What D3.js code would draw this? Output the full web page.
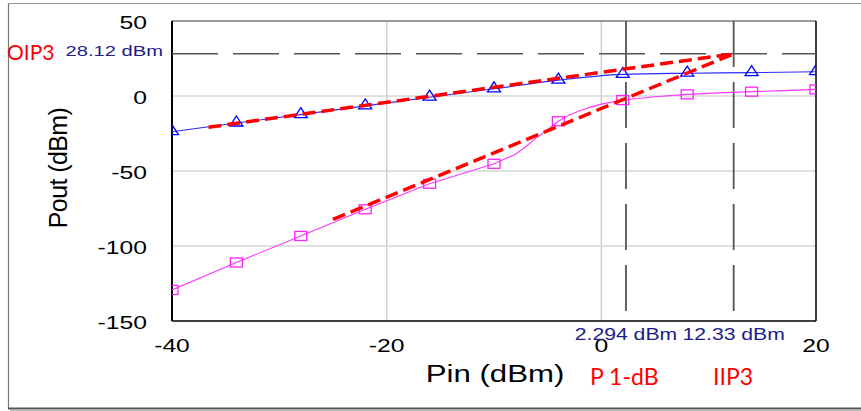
<!DOCTYPE html>
<html>
<head>
<script src="https://cdn.jsdelivr.net/npm/d3@7"></script>
<style>
  body { margin: 0; background: #fff; }
  svg { display: block; }
</style>
</head>
<body>
<script>
// values
var pinMarkers = [-40, -34, -28, -22, -16, -10, -4, 2, 8, 14, 20];
var fundOut = [-23.8, -18, -12.4, -6.6, -0.8, 4.8, 10.6, 14.4, 15.2, 15.6, 16.2];

var im3Pin = [-40, -34, -28, -22, -16, -10, -8, -7, -6, -5, -4, -3, -2, -1, 0, 2, 5, 8, 11, 14, 17, 20];
var im3Out = [-129.3, -111, -93.3, -75.5, -58.5, -45.2, -38.8, -33.5, -27.6, -22.3, -16.8, -12.6, -9.8, -7.4, -5.4, -2.7, -0.5, 1.1, 2.1, 2.9, 3.6, 4.4];

var fundExtPin = [-36.6, 12.33], fundExtOut = [-20.8, 28.12];
var im3ExtPin = [-25, 12.33], im3ExtOut = [-82.2, 28.12];

var oip3 = 28.12, p1dB = 2.294, iip3 = 12.33;

var xTicks = [-40, -20, 0, 20];
var yTicks = [50, 0, -50, -100, -150];
var xGrid = [-20, 0];
var yGrid = [0, -50, -100];

var W = 861, H = 411;
var pLeft = 172, pRight = 816, pTop = 21, pBottom = 321;
var sx = 1.3; // the original text is stretched sideways

var x = d3.scaleLinear().domain([-40, 20]).range([pLeft, pRight]);
var y = d3.scaleLinear().domain([-150, 50]).range([pBottom, pTop]);

var svg = d3.select("body").append("svg").attr("width", W).attr("height", H);

// outer frame
svg.append("line").attr("x1", 8.5).attr("x2", 8.5).attr("y1", 3).attr("y2", 408)
  .attr("stroke", "#777").attr("stroke-width", 1.2);
svg.append("line").attr("x1", 8).attr("x2", W).attr("y1", 3.5).attr("y2", 3.5)
  .attr("stroke", "#999").attr("stroke-width", 1);
svg.append("line").attr("x1", 8).attr("x2", W).attr("y1", 408.5).attr("y2", 408.5)
  .attr("stroke", "#555").attr("stroke-width", 2);
svg.append("line").attr("x1", 10).attr("x2", W).attr("y1", 410.5).attr("y2", 410.5)
  .attr("stroke", "#bbb").attr("stroke-width", 1);

svg.append("clipPath").attr("id", "plot")
  .append("rect").attr("x", pLeft).attr("y", pTop).attr("width", pRight - pLeft).attr("height", pBottom - pTop);

// grid
svg.selectAll(".gx").data(xGrid).enter().append("line")
  .attr("x1", function(d) { return x(d); }).attr("x2", function(d) { return x(d); })
  .attr("y1", pTop).attr("y2", pBottom)
  .attr("stroke", "#cfcfcf").attr("stroke-width", 1.5);
svg.selectAll(".gy").data(yGrid).enter().append("line")
  .attr("x1", pLeft).attr("x2", pRight)
  .attr("y1", function(d) { return y(d); }).attr("y2", function(d) { return y(d); })
  .attr("stroke", "#d6d6d6").attr("stroke-width", 1.5);

// plot frame
svg.append("line").attr("x1", pLeft).attr("x2", pRight).attr("y1", pTop).attr("y2", pTop)
  .attr("stroke", "#777").attr("stroke-width", 1.5);
svg.append("line").attr("x1", pRight).attr("x2", pRight).attr("y1", pTop).attr("y2", pBottom)
  .attr("stroke", "#000").attr("stroke-width", 1.5);
svg.append("line").attr("x1", pLeft).attr("x2", pRight).attr("y1", pBottom).attr("y2", pBottom)
  .attr("stroke", "#000").attr("stroke-width", 1.5);
svg.append("line").attr("x1", pLeft).attr("x2", pLeft).attr("y1", pTop).attr("y2", pBottom)
  .attr("stroke", "#000").attr("stroke-width", 2);

// black dashed markers
var dash = "46,15";
svg.append("line").attr("x1", pLeft).attr("x2", pRight).attr("y1", y(oip3)).attr("y2", y(oip3))
  .attr("stroke", "#555").attr("stroke-width", 1.6).attr("stroke-dasharray", dash);
[p1dB, iip3].forEach(function(v) {
  svg.append("line").attr("x1", x(v)).attr("x2", x(v)).attr("y1", pTop).attr("y2", pBottom)
    .attr("stroke", "#555").attr("stroke-width", 1.8).attr("stroke-dasharray", dash);
});

var plot = svg.append("g").attr("clip-path", "url(#plot)");

var fund = d3.zip(pinMarkers, fundOut);
var im3 = d3.zip(im3Pin, im3Out);

var smooth = d3.line()
  .x(function(d) { return x(d[0]); })
  .y(function(d) { return y(d[1]); })
  .curve(d3.curveMonotoneX);
var straight = d3.line()
  .x(function(d) { return x(d[0]); })
  .y(function(d) { return y(d[1]); });

plot.append("path").attr("d", straight(im3)).attr("fill", "none")
  .attr("stroke", "#ff33ff").attr("stroke-width", 1.1).attr("stroke-linejoin", "round");
plot.append("path").attr("d", smooth(fund)).attr("fill", "none")
  .attr("stroke", "#2a2aff").attr("stroke-width", 1.1);

// markers
plot.selectAll(".tri").data(fund).enter().append("path")
  .attr("d", "M0,-7L6.5,3L-6.5,3Z")
  .attr("transform", function(d) { return "translate(" + x(d[0]) + "," + y(d[1]) + ")"; })
  .attr("fill", "none").attr("stroke", "#0000ff").attr("stroke-width", 1.3);
plot.selectAll(".sq").data(im3.filter(function(d) { return pinMarkers.indexOf(d[0]) >= 0; }))
  .enter().append("rect")
  .attr("x", function(d) { return x(d[0]) - 6; })
  .attr("y", function(d) { return y(d[1]) - 4.5; })
  .attr("width", 12).attr("height", 9)
  .attr("fill", "none").attr("stroke", "#ff22ff").attr("stroke-width", 1.3);

// red extrapolations
[d3.zip(fundExtPin, fundExtOut), d3.zip(im3ExtPin, im3ExtOut)].forEach(function(pts) {
  svg.append("path").attr("d", straight(pts)).attr("fill", "none")
    .attr("stroke", "#ff0000").attr("stroke-width", 3.5).attr("stroke-dasharray", "13,6");
});

// text helper
function label(px, py, str, size, color, anchor, family, stretch) {
  return svg.append("text")
    .attr("transform", "translate(" + px + "," + py + ") scale(" + stretch + ",1)")
    .attr("text-anchor", anchor)
    .attr("font-family", family)
    .attr("font-size", size)
    .attr("fill", color)
    .text(str);
}
var arial = "Liberation Sans, Arial, sans-serif";
var cal = "Lato, Open Sans, sans-serif";

yTicks.forEach(function(v) { label(147, y(v) + 8, v, 19, "#000", "end", arial, sx); });
xTicks.forEach(function(v) { label(x(v), 352, v, 19, "#000", "middle", arial, sx); });

label(495, 382, "Pin (dBm)", 24, "#000", "middle", arial, sx);
svg.append("text")
  .attr("transform", "translate(67,168) scale(1.05,1) rotate(-90)")
  .attr("text-anchor", "middle")
  .attr("font-family", arial).attr("font-size", 25)
  .attr("letter-spacing", -0.6)
  .text("Pout (dBm)");

var navy = "#1c1c8a";
label(163, 56, oip3 + " dBm", 15.5, navy, "end", arial, sx);
label(x(p1dB), 340, p1dB + " dBm", 16.3, navy, "middle", arial, sx);
label(x(iip3), 340, iip3 + " dBm", 16.3, navy, "middle", arial, sx);

label(7, 60, "OIP3", 21, "#ff0000", "start", cal, 1);
label(590, 385, "P 1-dB", 23, "#ff0000", "start", cal, 1);
label(713, 385, "IIP3", 23, "#ff0000", "start", cal, 1);
</script>
</body>
</html>
